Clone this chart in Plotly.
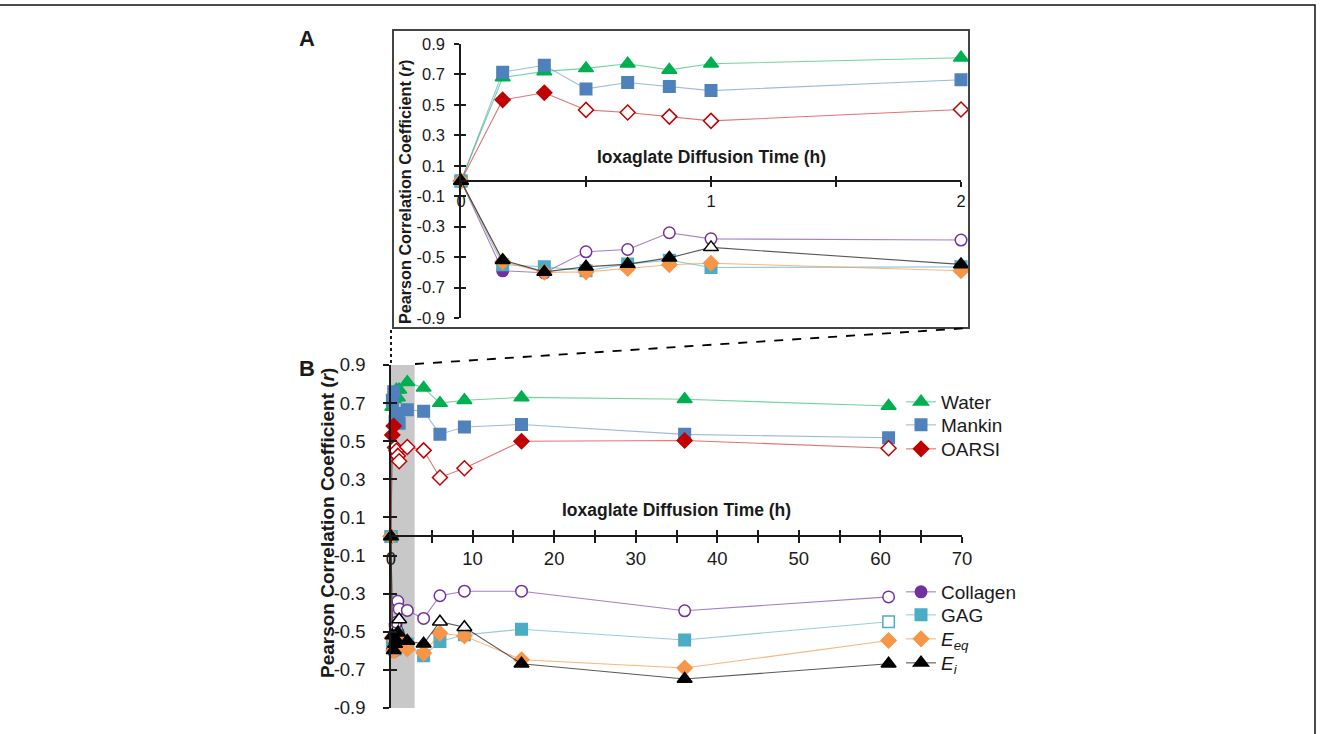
import plotly.graph_objects as go

W, H = 1320, 734
FONT = 'Liberation Sans, Arial, sans-serif'
INK = '#1a1a1a'
PAGE_JS = "document.body.style.margin = '0'; document.body.style.padding = '0';"
CONFIG = {'displayModeBar': False, 'displaylogo': False}

# diffusion times (h); panel A shows the first 8 points (0-2 h)
time_h = [0, 1/6, 1/3, 1/2, 2/3, 5/6, 1, 2, 4, 6, 9, 16, 36, 61]
N_A = 8

water = [0, 0.68, 0.72, 0.74, 0.77, 0.73, 0.77, 0.81, 0.78, 0.70, 0.715, 0.73, 0.72, 0.685]
mankin = [0, 0.715, 0.76, 0.605, 0.647, 0.62, 0.594, 0.665, 0.657, 0.537, 0.575, 0.588, 0.536, 0.518]
oarsi = [0, 0.533, 0.58, 0.467, 0.45, 0.423, 0.395, 0.47, 0.452, 0.31, 0.358, 0.50, 0.504, 0.463]
collagen = [0, -0.59, -0.603, -0.465, -0.45, -0.34, -0.38, -0.388, -0.43, -0.311, -0.287, -0.287, -0.39, -0.317]
gag = [0, -0.55, -0.564, -0.59, -0.546, -0.52, -0.568, -0.564, -0.626, -0.551, -0.516, -0.487, -0.543, -0.447]
e_eq = [0, -0.53, -0.60, -0.597, -0.575, -0.55, -0.54, -0.59, -0.612, -0.508, -0.522, -0.647, -0.69, -0.546]
e_i = [0, -0.52, -0.597, -0.564, -0.546, -0.505, -0.436, -0.548, -0.563, -0.447, -0.476, -0.668, -0.748, -0.668]

# 1 = significant (filled marker), 0 = not significant (open marker)
water_sig = [1] * 14
mankin_sig = [1] * 14
oarsi_sig = [1, 1, 1, 0, 0, 0, 0, 0, 0, 0, 0, 1, 1, 0]
collagen_sig = [1, 1, 1, 0, 0, 0, 0, 0, 0, 0, 0, 0, 0, 0]
gag_sig = [1] * 13 + [0]
e_eq_sig = [1] * 14
e_i_sig = [1, 1, 1, 1, 1, 1, 0, 1, 1, 0, 0, 1, 1, 1]

r_ticks = [-0.9, -0.7, -0.5, -0.3, -0.1, 0.1, 0.3, 0.5, 0.7, 0.9]
r_labels = ['%.1f' % v for v in r_ticks]
a_ticks = [0, 0.5, 1, 1.5, 2]
a_labels = ['0', '', '1', '', '2']
b_ticks = list(range(0, 75, 5))
b_labels = [str(v) if v % 10 == 0 else '' for v in b_ticks]

SERIES = [
    ('Water', water, water_sig, 'triangle-up', '#00B050', 'rgba(0,176,80,0.55)'),
    ('Mankin', mankin, mankin_sig, 'square', '#4F81BD', 'rgba(79,129,189,0.55)'),
    ('OARSI', oarsi, oarsi_sig, 'diamond', '#C00000', 'rgba(210,40,40,0.65)'),
    ('Collagen', collagen, collagen_sig, 'circle', '#7030A0', 'rgba(130,70,180,0.7)'),
    ('GAG', gag, gag_sig, 'square', '#4BACC6', 'rgba(75,172,198,0.6)'),
    ('<i>E</i><sub><i>eq</i></sub>', e_eq, e_eq_sig, 'diamond', '#F79646', 'rgba(247,150,70,0.7)'),
    ('<i>E</i><sub><i>i</i></sub>', e_i, e_i_sig, 'triangle-up', '#000000', 'rgba(0,0,0,0.65)'),
]
# pixel row of each legend entry (one small legend per series)
LEGEND_ROWS = [402, 425, 449, 592, 615, 639, 663]


def px(x):
    return x / W


def py(y):
    return 1 - y / H


fig = go.Figure()

legend_layout = {}
for i, (name, vals, sig, sym, col, lcol) in enumerate(SERIES):
    leg = 'legend' if i == 0 else 'legend%d' % (i + 1)
    legend_layout[leg] = dict(x=px(901), y=py(LEGEND_ROWS[i]), xanchor='left', yanchor='middle',
                              bgcolor='rgba(0,0,0,0)', font=dict(size=19, color=INK, family=FONT))
    fills = [col if s else 'white' for s in sig]
    size = 13 if 'triangle' in sym else 11.5
    marker = dict(symbol=sym, size=size, color=fills, line=dict(color=col, width=1.5))
    fig.add_trace(go.Scatter(
        x=time_h[:N_A], y=vals[:N_A], mode='lines+markers', name=name,
        line=dict(color=lcol, width=1.1), marker=dict(marker, color=fills[:N_A]),
        xaxis='x', yaxis='y', showlegend=False, cliponaxis=False
    ))
    fig.add_trace(go.Scatter(
        x=time_h, y=vals, mode='lines+markers', name=name,
        line=dict(color=lcol, width=1.1), marker=marker,
        xaxis='x2', yaxis='y2', legend=leg, cliponaxis=False
    ))

# empty traces so the tick-crossing overlay axes get drawn
fig.add_trace(go.Scatter(x=[], y=[], xaxis='x3', yaxis='y3', showlegend=False, hoverinfo='skip'))
fig.add_trace(go.Scatter(x=[], y=[], xaxis='x4', yaxis='y4', showlegend=False, hoverinfo='skip'))

axis_common = dict(showgrid=False, zeroline=False, linecolor=INK, linewidth=1.5,
                   tickcolor=INK, tickwidth=1.5, tickfont=dict(color=INK, family=FONT))

xa_dom = [px(461), px(961)]
ya_dom = [py(318), py(44)]
xb_dom = [px(391), px(962)]
yb_dom = [py(708), py(365)]

fig.update_layout(
    width=W, height=H,
    margin=dict(l=0, r=0, t=0, b=0, pad=0, autoexpand=False),
    paper_bgcolor='white', plot_bgcolor='rgba(0,0,0,0)',
    font=dict(family=FONT, color=INK),
    xaxis=dict(axis_common, domain=xa_dom, range=[0, 2], anchor='free', position=py(181),
               showline=True, ticks='outside', ticklen=5, tickvals=a_ticks, ticktext=a_labels,
               tickfont=dict(size=16.5, color=INK)),
    yaxis=dict(axis_common, domain=ya_dom, range=[-0.9, 0.9], anchor='x', showline=True,
               ticks='outside', ticklen=5, tickvals=r_ticks, ticktext=r_labels,
               tickfont=dict(size=16.5, color=INK), ticklabelstandoff=6),
    xaxis3=dict(axis_common, domain=xa_dom, range=[0, 2], overlaying='x', anchor='free',
                position=py(181), showline=False, ticks='inside', ticklen=5,
                tickvals=a_ticks, showticklabels=False),
    yaxis3=dict(axis_common, domain=ya_dom, range=[-0.9, 0.9], overlaying='y', anchor='x',
                showline=False, ticks='inside', ticklen=5, tickvals=r_ticks, showticklabels=False),
    xaxis2=dict(axis_common, domain=xb_dom, range=[0, 70], anchor='free', position=py(536),
                showline=True, ticks='outside', ticklen=6, tickvals=b_ticks, ticktext=b_labels,
                tickfont=dict(size=18.5, color=INK)),
    yaxis2=dict(axis_common, domain=yb_dom, range=[-0.9, 0.9], anchor='x2', showline=True,
                ticks='outside', ticklen=6, tickvals=r_ticks, ticktext=r_labels,
                tickfont=dict(size=18.5, color=INK), ticklabelstandoff=14),
    xaxis4=dict(axis_common, domain=xb_dom, range=[0, 70], overlaying='x2', anchor='free',
                position=py(536), showline=False, ticks='inside', ticklen=6,
                tickvals=b_ticks, showticklabels=False),
    yaxis4=dict(axis_common, domain=yb_dom, range=[-0.9, 0.9], overlaying='y2', anchor='x2',
                showline=False, ticks='inside', ticklen=6, tickvals=r_ticks, showticklabels=False),
    **legend_layout,
)

shapes = [
    # outer figure frame
    dict(type='rect', xref='paper', yref='paper', x0=px(-10), x1=px(1315), y0=py(760), y1=py(5),
         line=dict(color='#111111', width=1.5)),
    # panel A frame
    dict(type='rect', xref='paper', yref='paper', x0=px(393), x1=px(969), y0=py(328), y1=py(30),
         line=dict(color='#444444', width=2)),
    # shaded 0-2 h window in panel B
    dict(type='rect', xref='x2', yref='y2', x0=0, x1=2.9, y0=-0.9, y1=0.9,
         fillcolor='#C8C8C8', line=dict(width=0), layer='below'),
    # zoom connector lines
    dict(type='line', xref='paper', yref='paper', x0=px(415), y0=py(364), x1=px(969), y1=py(328),
         line=dict(color='black', width=1.8, dash='dash')),
    dict(type='line', xref='paper', yref='paper', x0=px(391), y0=py(330), x1=px(391), y1=py(365),
         line=dict(color='black', width=1.8, dash='dot')),
]
fig.update_layout(shapes=shapes)

ytitle = '<b>Pearson Correlation Coefficient (<i>r</i>)</b>'
xtitle = '<b>Ioxaglate Diffusion Time (h)</b>'
annotations = [
    dict(text='<b>A</b>', x=px(307), y=py(39), font=dict(size=22)),
    dict(text='<b>B</b>', x=px(307), y=py(368), font=dict(size=22)),
    dict(text=xtitle, x=px(711), y=py(157), font=dict(size=17.5)),
    dict(text=xtitle, x=px(676), y=py(510), font=dict(size=17.5)),
    dict(text=ytitle, x=px(405), y=py(192), textangle=-90, font=dict(size=16.2)),
    dict(text=ytitle, x=px(327), y=py(523), textangle=-90, font=dict(size=19)),
]
for a in annotations:
    a.update(xref='paper', yref='paper', showarrow=False, xanchor='center', yanchor='middle')
    a['font'] = dict(a['font'], family=FONT, color=INK)
fig.update_layout(annotations=annotations)

fig.write_html('out.html', config=CONFIG, post_script=[PAGE_JS])
